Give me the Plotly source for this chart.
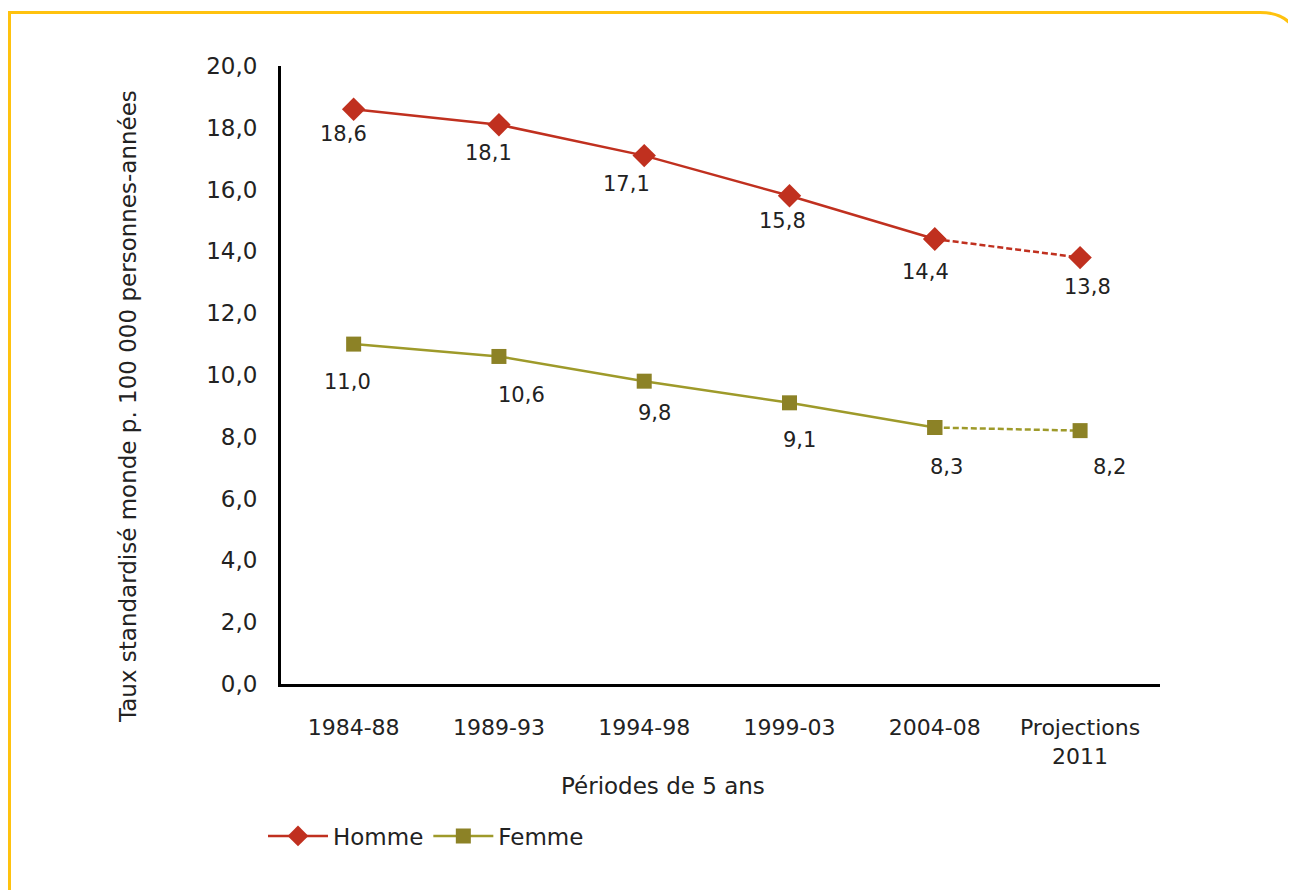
import plotly.graph_objects as go

categories = ["1984-88", "1989-93", "1994-98", "1999-03", "2004-08", "Projections<br>2011"]
homme = [18.6, 18.1, 17.1, 15.8, 14.4, 13.8]
femme = [11.0, 10.6, 9.8, 9.1, 8.3, 8.2]
homme_labels = ["18,6", "18,1", "17,1", "15,8", "14,4", "13,8"]
femme_labels = ["11,0", "10,6", "9,8", "9,1", "8,3", "8,2"]
y_ticks = [0, 2, 4, 6, 8, 10, 12, 14, 16, 18, 20]
y_tick_labels = ["0,0", "2,0", "4,0", "6,0", "8,0", "10,0", "12,0", "14,0", "16,0", "18,0", "20,0"]

RED = "#C0301F"
OLIVE_LINE = "#9E9A2A"
OLIVE_MARK = "#8C8226"
FONT = "DejaVu Sans"
TXT = "#222222"

OFF = 8  # page body margin
W, H = 1296 - OFF, 890 - OFF
# target page pixel positions of the plot area
PL, PR, PT, PB = 281, 1160, 66, 684
ML, MR, MT, MB = PL - OFF, W - (PR - OFF), PT - OFF, H - (PB - OFF)
PW, PH = W - ML - MR, H - MT - MB

def px(x):  # page pixel -> paper x
    return (x - OFF - ML) / PW

def py(y):  # page pixel -> paper y
    return (H - MB - (y - OFF)) / PH

fig = go.Figure()

fig.add_trace(go.Scatter(x=categories[:5], y=homme[:5], mode="lines+markers", name="Homme",
                         line=dict(color=RED, width=2.5),
                         marker=dict(symbol="diamond", size=18, color=RED),
                         legendgroup="h"))
fig.add_trace(go.Scatter(x=categories[4:], y=homme[4:], mode="lines+markers", name="Homme",
                         line=dict(color=RED, width=2.5, dash="6px,3px"),
                         marker=dict(symbol="diamond", size=18, color=RED),
                         legendgroup="h", showlegend=False))
fig.add_trace(go.Scatter(x=categories[:5], y=femme[:5], mode="lines+markers", name="Femme",
                         line=dict(color=OLIVE_LINE, width=2.5),
                         marker=dict(symbol="square", size=15, color=OLIVE_MARK),
                         legendgroup="f"))
fig.add_trace(go.Scatter(x=categories[4:], y=femme[4:], mode="lines+markers", name="Femme",
                         line=dict(color=OLIVE_LINE, width=2.5, dash="6px,3px"),
                         marker=dict(symbol="square", size=15, color=OLIVE_MARK),
                         legendgroup="f", showlegend=False))

h_xs = [-10, -10, -18, -7, -9, 7]
h_ys = [-25, -28, -28, -25, -33, -29]
f_xs = [-6, 23, 10, 10, 12, 29]
f_ys = [-38, -39, -32, -37, -39, -36]
annotations = []
for i, c in enumerate(categories):
    annotations.append(dict(x=c, y=homme[i], xref="x", yref="y", text=homme_labels[i], showarrow=False,
                            xshift=h_xs[i], yshift=h_ys[i], xanchor="center", yanchor="middle",
                            font=dict(family=FONT, size=21, color=TXT)))
    annotations.append(dict(x=c, y=femme[i], xref="x", yref="y", text=femme_labels[i], showarrow=False,
                            xshift=f_xs[i], yshift=f_ys[i], xanchor="center", yanchor="middle",
                            font=dict(family=FONT, size=21, color=TXT)))

annotations.append(dict(xref="paper", yref="paper", x=px(663), y=py(786),
                        xanchor="center", yanchor="middle",
                        text="Périodes de 5 ans", showarrow=False,
                        font=dict(family=FONT, size=23, color=TXT)))
annotations.append(dict(xref="paper", yref="paper", x=px(128), y=py(407),
                        xanchor="center", yanchor="middle",
                        text="Taux standardisé monde p. 100 000 personnes-années",
                        textangle=-90, showarrow=False,
                        font=dict(family=FONT, size=23, color=TXT)))
fig.update_layout(annotations=annotations)

# orange rounded frame (left edge clipped at page margin)
x0, y0 = px(9.5), py(12.5)
path = (f"M {x0},{py(900)} L {x0},{y0} L {px(1260)},{y0} "
        f"Q {px(1296)},{y0} {px(1300)},{py(48)}")
fig.add_shape(type="path", xref="paper", yref="paper", path=path,
              line=dict(color="#FFC20E", width=3), layer="below")

fig.update_xaxes(type="category", range=[-0.5, 5.55], showline=True, linecolor="black", linewidth=3,
                 showgrid=False, zeroline=False, ticks="", ticklabelstandoff=22,
                 tickfont=dict(family=FONT, size=22, color=TXT))
fig.update_yaxes(range=[0, 20], tickvals=y_ticks, ticktext=y_tick_labels,
                 showline=True, linecolor="black", linewidth=3,
                 showgrid=False, zeroline=False, ticks="", ticklabelstandoff=16,
                 tickfont=dict(family=FONT, size=23, color=TXT))

fig.update_layout(width=W, height=H, margin=dict(l=ML, r=MR, t=MT, b=MB),
                  paper_bgcolor="white", plot_bgcolor="white",
                  showlegend=True,
                  legend=dict(orientation="h", x=px(263), y=py(836), xanchor="left", yanchor="middle",
                              font=dict(family=FONT, size=23, color=TXT), itemwidth=60,
                              tracegroupgap=0, bgcolor="rgba(0,0,0,0)"))

fig.write_html("out.html")
